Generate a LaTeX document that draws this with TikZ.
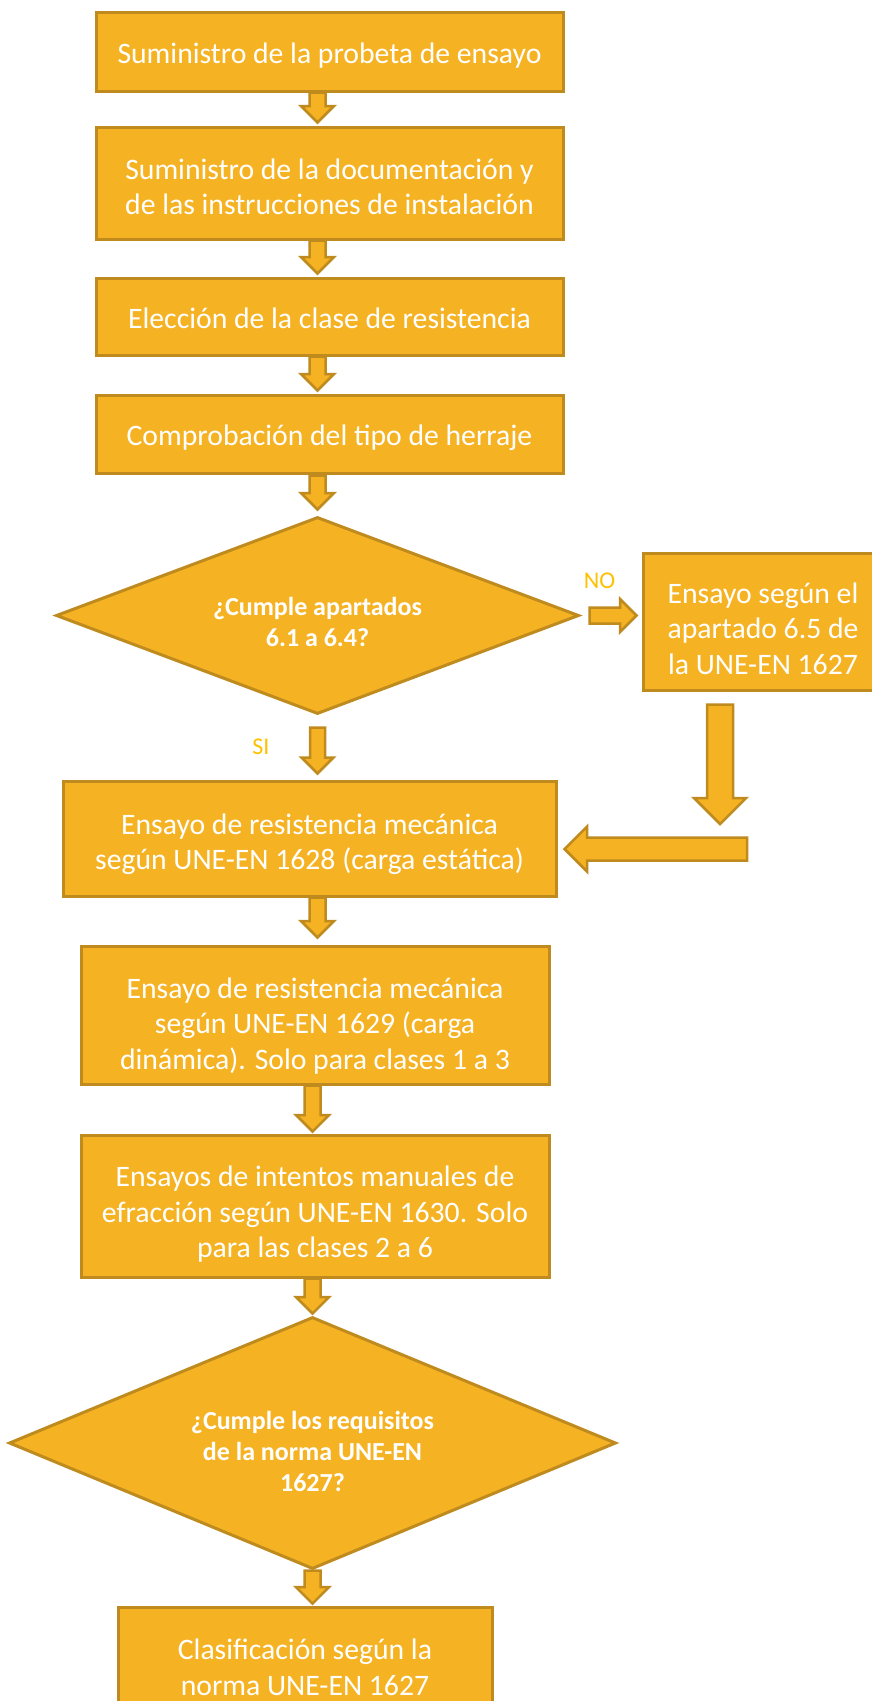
\documentclass[tikz,border=0pt]{standalone}
\usepackage{fontspec}
\setmainfont{Carlito}
\usepackage{tikz}
\usetikzlibrary{calc,shapes.geometric,positioning}
\definecolor{naranja}{HTML}{F5B324}
\definecolor{borde}{HTML}{BF8B1E}
\definecolor{etiqueta}{HTML}{FFC000}

% block arrow: tail, tip, tail gap, tip gap, shaft half width, head half width
\newcommand{\blockarrow}[6]{%
  \coordinate (fa) at ($(#1)!#3!(#2)$);
  \coordinate (fb) at ($(#2)!#4!(#1)$);
  \coordinate (fc) at ($(fb)!#6!(fa)$);
  \filldraw[blockarr] ($(fa)!#5!90:(fb)$) -- ($(fc)!#5!90:(fb)$) -- ($(fc)!#6!90:(fb)$) -- (fb) -- ($(fc)!#6!-90:(fb)$) -- ($(fc)!#5!-90:(fb)$) -- ($(fa)!#5!-90:(fb)$) -- cycle;}

\begin{document}
\begin{tikzpicture}[x=1pt,y=-1pt]

\tikzset{orangenode/.style={font=\fontsize{29.7}{35.5}\selectfont,text=white,fill=naranja,draw=borde,line width=3pt,inner sep=0pt,align=center,shape=rectangle,text height=30.6pt,text depth=7pt},
orangediamond/.style={font=\fontsize{26}{31}\selectfont\bfseries,text=white,fill=naranja,draw=borde,line width=3pt,inner sep=0pt,align=center,shape=diamond,text depth=2pt},
blockarr/.style={fill=naranja,draw=borde,line width=2.5pt,line join=miter},
answer/.style={font=\fontsize{24}{29}\selectfont,text=etiqueta}}

\useasboundingbox (0,0) rectangle (872,1701);

% Boxes
\node[orangenode,minimum width=467pt,minimum height=79pt] (supply) at (329.5,51.5) {Suministro de la probeta de ensayo};
\node[orangenode,text height=70.4pt,minimum width=467pt,minimum height=112pt] (docs) at (329.5,183) {Suministro de la documentación y\\de las instrucciones de instalación};
\node[orangenode,minimum width=467pt,minimum height=77pt] (classChoice) at (329.5,316.5) {Elección de la clase de resistencia};
\node[orangenode,minimum width=467pt,minimum height=78pt] (hardware) at (329.5,434) {Comprobación del tipo de herraje};
\node[orangediamond,text height=64.4pt,aspect=2.65,minimum width=523pt,minimum height=197pt] (check1) at (317.5,615.5) {¿Cumple apartados\\6.1 a 6.4?};
\node[orangenode,text height=112pt,minimum width=240pt,minimum height=137pt] (altTest) at (763,621.5) {Ensayo según el\\apartado 6.5 de\\la UNE-EN 1627};
\node[orangenode,text height=69pt,minimum width=493pt,minimum height=115pt] (staticTest) at (309.5,838.5) {Ensayo de resistencia mecánica\\según UNE-EN 1628 (carga estática)};
\node[orangenode,text height=115pt,minimum width=468pt,minimum height=138pt] (dynTest) at (315,1015) {Ensayo de resistencia mecánica\\según UNE-EN 1629 (carga\\dinámica). Solo para clases 1 a 3};
\node[orangenode,text height=110pt,minimum width=468pt,minimum height=142pt] (manualTest) at (315,1206) {Ensayos de intentos manuales de\\efracción según UNE-EN 1630. Solo\\para las clases 2 a 6};
\node[orangediamond,text height=98pt,aspect=2.41,minimum width=607pt,minimum height=252pt] (check2) at (312.5,1443) {¿Cumple los requisitos\\de la norma UNE-EN\\1627?};
\node[orangenode,text height=69pt,minimum width=374pt,minimum height=114pt] (classif) at (305,1664) {Clasificación según la\\norma UNE-EN 1627};

% Answers
\node[answer] (noLabel) at ($(check1.east)+(19,-35)$) {NO};
\node[answer] (siLabel) at ($(check1.south)+(-56.5,31)$) {SI};

% free ends of the return path
\coordinate (downEnd) at (720,826);
\coordinate (leftStart) at (747,849);

% Arrows
\blockarrow{supply.south -| check1}{docs.north -| check1}{0pt}{3pt}{8pt}{16.5pt}
\blockarrow{docs.south -| check1}{classChoice.north -| check1}{0pt}{3pt}{8pt}{16.5pt}
\blockarrow{classChoice.south -| check1}{hardware.north -| check1}{0pt}{3pt}{8pt}{16.5pt}
\blockarrow{hardware.south -| check1}{check1.north}{1pt}{6pt}{8pt}{16.5pt}
\blockarrow{check1.east}{altTest.west |- check1.east}{9pt}{5pt}{8pt}{16.5pt}
\blockarrow{altTest.south -| downEnd}{downEnd}{13pt}{2pt}{13pt}{26pt}
\blockarrow{leftStart}{staticTest.east |- leftStart}{0pt}{7pt}{11.5pt}{22.5pt}
\blockarrow{check1.south}{staticTest.north -| check1}{12pt}{6pt}{7.5pt}{16pt}
\blockarrow{staticTest.south -| check1}{dynTest.north -| check1}{0pt}{7pt}{8pt}{16.5pt}
\blockarrow{dynTest.south -| check2}{manualTest.north -| check2}{0pt}{2pt}{8pt}{16.5pt}
\blockarrow{manualTest.south -| check2}{check2.north}{0pt}{2pt}{8pt}{16.5pt}
\blockarrow{check2.south}{classif.north -| check2}{0pt}{2pt}{8pt}{16.5pt}

\end{tikzpicture}
\end{document}
